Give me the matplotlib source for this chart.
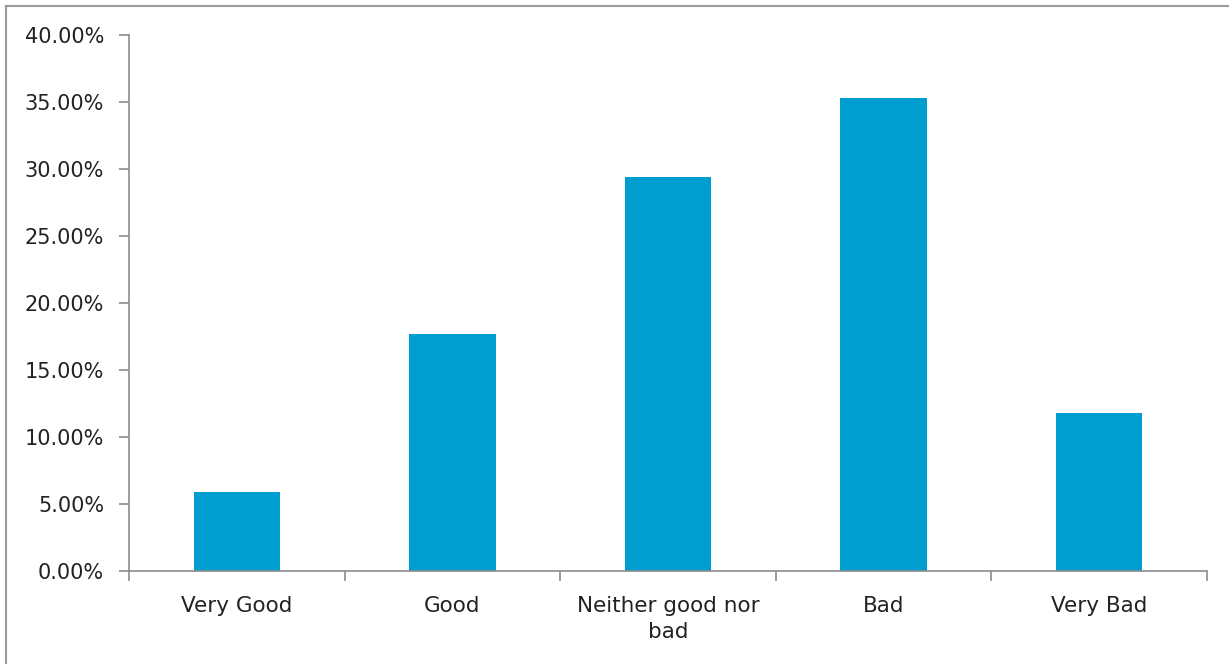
import matplotlib

matplotlib.use("Agg")
import matplotlib.pyplot as plt
from matplotlib.lines import Line2D
from matplotlib.ticker import FuncFormatter, MultipleLocator

categories = ["Very Good", "Good", "Neither good nor\nbad", "Bad", "Very Bad"]
shares = [5.9, 17.7, 29.4, 35.3, 11.8]

bar_color = "#009ED0"
axis_color = "#8c8c8c"
text_color = "#222222"

plt.rcParams["font.family"] = ["DejaVu Sans"]

fig = plt.figure(figsize=(12.29, 6.64), dpi=100)
ax = fig.add_axes([0.105, 0.14, 0.877, 0.807])

x = list(range(len(categories)))
ax.bar(x, shares, width=0.4, color=bar_color)

ax.set_xlim(-0.5, len(categories) - 0.5)
ax.set_ylim(0, 40)
ax.yaxis.set_major_locator(MultipleLocator(5))
ax.yaxis.set_major_formatter(FuncFormatter(lambda v, _: f"{v:.2f}%"))

# category labels sit between boundary ticks
ax.set_xticks([i - 0.5 for i in range(len(categories) + 1)])
ax.set_xticklabels([])
ax.set_xticks(x, minor=True)
ax.set_xticklabels(categories, minor=True, fontsize=15.5, color=text_color,
                   linespacing=1.4)
ax.tick_params(axis="x", which="minor", length=0, pad=18)
ax.tick_params(axis="x", which="major", direction="out", length=7,
               color=axis_color, width=1.2)
ax.tick_params(axis="y", direction="out", length=7, color=axis_color,
               width=1.2, labelsize=15, labelcolor=text_color, pad=11)

for side in ["top", "right"]:
    ax.spines[side].set_visible(False)
for side in ["left", "bottom"]:
    ax.spines[side].set_color(axis_color)
    ax.spines[side].set_linewidth(1.2)

# outer frame of the chart area
fig.add_artist(Line2D([0.005, 0.005], [0, 0.991], transform=fig.transFigure,
                      color="#9a9a9a", lw=1.5))
fig.add_artist(Line2D([0.005, 1], [0.991, 0.991], transform=fig.transFigure,
                      color="#9a9a9a", lw=1.5))

fig.savefig("out.png", dpi=100)
